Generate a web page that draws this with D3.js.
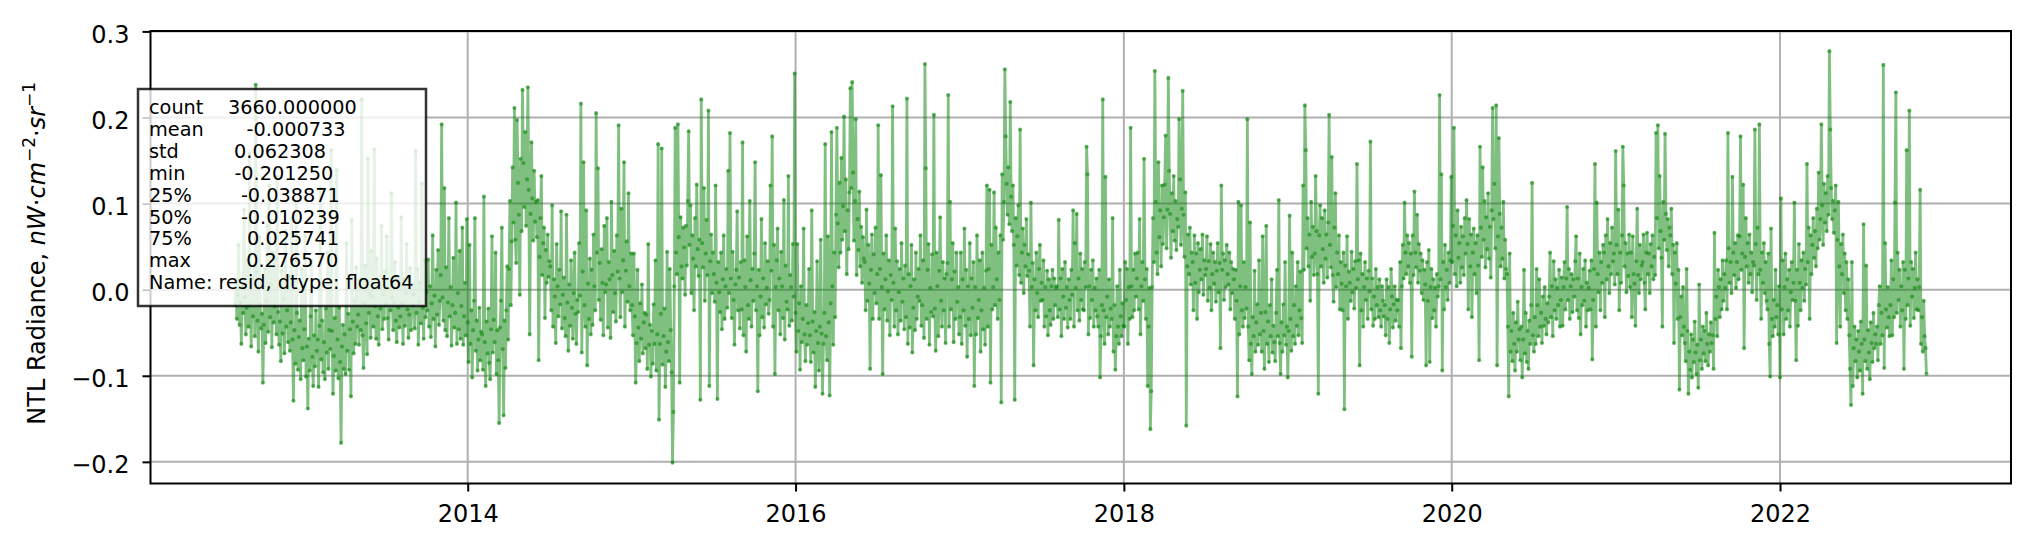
<!DOCTYPE html>
<html>
<head>
<meta charset="utf-8">
<script src="https://cdn.jsdelivr.net/npm/d3@7"></script>
<style>
    body { margin: 0; background: #ffffff; }
    text { font-family: "DejaVu Sans", sans-serif; }
</style>
</head>
<body>
<div id="chart"></div>
<script>
// residual series, one value every 2 days starting 2012-08-01 (one row per month)
let startDate = "2012-08-01";
let stepDays = 2;

let resid2012 = [-.018,.012,-.034,-.006,.052,-.041,-.015,-.063,.004,-.027,.093,-.009,-.052,-.021,.034,
    -.043,.158,-.018,-.066,.013,-.031,.027,-.054,.238,.021,-.036,-.072,.061,-.017,-.045,
    -.028,-.108,-.041,.024,-.062,-.013,.074,-.049,.121,-.032,.006,-.067,.043,-.038,-.019,.036,
    -.052,.131,-.026,-.064,-.037,-.083,.022,-.051,-.011,-.074,.068,-.043,-.024,-.061,.015,
    -.071,-.038,.083,-.058,-.129,-.047,-.086,.102,-.027,-.093,-.055,-.036,-.104,.024,-.068];
let resid2013 = [-.082,-.046,.063,-.101,-.066,-.138,-.057,-.094,-.031,.034,-.078,-.112,-.053,-.089,-.024,-.071,
    -.058,-.113,-.042,.118,-.081,-.036,-.096,-.061,-.104,-.022,-.073,.043,-.092,-.047,
    -.069,.162,-.048,-.121,-.077,-.033,-.094,.139,-.058,-.103,-.021,-.084,-.178,-.066,-.041,-.092,
    -.052,-.098,.054,-.071,-.028,-.093,-.046,-.124,.081,-.037,-.074,-.013,-.063,.026,-.043,
    -.029,-.064,.012,-.047,.221,-.053,-.091,-.016,.028,-.039,-.075,.152,-.027,-.004,-.056,.045,
    -.008,-.043,.163,-.019,-.057,.036,-.031,-.064,.007,-.022,.074,-.046,-.006,-.034,.021,
    -.017,.062,-.033,-.058,.003,-.024,.112,-.009,-.047,-.015,.032,-.036,-.061,.014,-.021,-.044,
    -.031,.084,-.016,-.063,.012,-.042,-.004,.053,-.023,-.056,-.029,.025,-.047,.006,-.018,
    -.006,-.045,.161,-.027,.024,-.064,-.014,.008,-.039,.123,-.021,-.057,.034,-.032,-.003,
    -.024,.035,-.043,.004,-.055,-.016,.063,-.034,-.007,-.066,.023,-.029,.046,-.041,-.013,.017,
    .192,-.009,-.036,.118,-.047,.026,-.054,-.015,.083,-.031,.003,-.065,-.018,.037,-.044,
    -.027,.101,-.063,-.004,-.046,.045,-.057,-.019,.072,-.064,-.031,.008,-.053,.082];
let resid2014 = [-.038,-.084,.052,-.063,-.024,-.102,-.047,-.013,.083,-.071,-.036,-.094,-.058,-.021,-.082,-.049,
    -.052,-.093,.108,-.061,-.112,-.037,-.074,-.022,-.085,-.104,-.046,.062,-.073,-.035,
    -.061,.043,-.098,-.047,-.082,-.155,-.044,-.013,.072,-.069,-.146,-.036,-.091,-.024,.027,-.058,
    .024,.103,-.018,.056,.142,.078,.211,.058,.031,.197,.124,.087,-.006,.152,.068,
    .232,.147,.096,.183,.074,.128,.235,.116,-.052,.088,.171,.106,.057,.138,.079,.102,
    .061,.104,-.082,.038,.083,.132,.017,.054,.072,-.033,.046,.008,.064,.015,.033,
    .027,-.024,.098,-.043,.012,-.008,-.062,.053,.004,-.031,.023,-.017,.091,-.045,-.006,.014,
    -.033,-.054,.087,-.015,-.071,.006,-.042,.034,-.021,-.057,-.004,.043,-.028,-.063,-.012,
    -.026,.054,-.007,.216,-.073,.021,.148,-.018,-.043,.092,-.088,.007,-.034,.036,-.052,
    .023,-.041,.064,.004,-.024,.205,.043,.141,-.012,.031,-.035,.047,.008,-.053,.074,-.003,
    .006,.083,-.044,.032,.012,-.056,.102,.017,-.026,.045,-.004,-.037,.063,.021,.191,
    .013,-.032,.094,-.003,.034,.148,-.043,.022,.056,-.014,.112,.004,-.024,.042];
let resid2015 = [-.018,-.053,.042,-.031,-.108,-.062,.023,-.044,-.083,-.016,-.057,.006,-.074,-.038,-.027,
    -.068,-.029,-.092,.053,-.064,-.041,-.101,-.048,-.086,-.017,-.063,.034,-.094,-.052,
    .169,-.151,-.063,-.028,.164,-.087,-.054,-.022,-.113,-.072,.044,-.061,-.083,.024,-.047,-.096,
    -.201,-.142,.004,.188,.043,.018,.192,.061,-.108,.084,.027,.013,.072,.049,-.006,
    .074,.028,.103,.184,.052,.098,-.004,.063,.036,-.024,.083,.027,.122,.047,.016,.058,
    -.128,.221,.054,.026,.118,-.013,.042,.081,.017,.208,-.112,.033,.064,-.004,.043,
    .018,-.014,.121,.008,-.127,.032,-.003,-.026,.043,-.046,.012,.063,-.034,.004,.024,-.021,
    .138,-.004,.182,.013,-.033,.044,-.012,-.064,.006,.023,.091,-.024,.014,-.045,.032,
    -.023,.171,-.053,.034,.003,-.072,.062,-.018,-.034,.103,.011,-.043,.024,-.013,.042,
    .148,-.024,.004,-.118,.023,-.053,-.008,.082,-.032,.013,-.044,.054,-.017,.002,.033,-.028,
    -.012,.121,.022,.178,-.043,.052,-.098,.003,.034,.071,-.024,.013,-.052,.044,.004,
    -.033,.104,-.058,.028,-.014,-.023,.132,-.042,.017,.003,-.036,.053,-.008,.251];
let resid2016 = [-.027,-.072,.053,-.048,-.016,-.093,.004,-.061,-.034,.071,-.052,-.083,-.018,-.064,-.039,.024,
    -.053,-.084,.092,-.037,-.073,-.026,-.113,-.048,.033,-.062,-.094,-.043,.058,-.051,
    -.121,-.063,-.027,.169,-.054,-.082,.062,-.038,-.123,-.016,.183,.004,-.064,.043,-.032,.087,
    .188,.077,.026,.124,.043,.153,.058,.097,.201,.068,.128,.018,.092,.047,.113,
    .234,.118,.241,.136,.057,.103,.198,.017,.082,.046,.114,.027,.073,.008,.061,.036,
    .032,-.024,.093,-.013,.052,.007,-.092,.023,.064,-.034,.041,-.004,.072,-.016,.018,
    .191,-.034,.024,.133,.003,-.098,.042,-.023,.012,.063,-.036,-.002,.034,-.053,.017,-.012,
    .213,.008,-.043,.071,-.024,.033,-.052,-.003,.024,-.036,.054,-.014,.013,-.046,.028,
    -.032,.222,-.063,.018,-.044,.004,.052,-.073,-.021,.012,-.047,.043,-.034,-.008,.024,
    -.013,.063,-.042,-.018,.034,-.056,.262,.141,-.034,.023,.053,-.064,.002,-.026,.041,-.031,
    .203,-.022,-.071,.043,.004,-.054,.022,.084,-.013,-.043,.032,-.024,.013,-.062,.018,
    .031,.226,-.043,.102,-.023,.012,.054,-.061,.021,-.034,.043,-.014,.003,-.052];
let resid2017 = [-.032,.043,-.063,.012,-.024,.071,-.042,.023,-.078,.004,-.034,.054,-.053,.013,-.021,.032,
    -.112,.003,-.052,.063,-.033,-.012,.034,-.072,-.024,.043,-.046,.002,-.064,.022,
    .121,-.043,.024,.116,-.108,.052,-.023,.003,.113,-.018,.072,.012,-.034,.043,-.012,.063,
    -.131,.134,.058,.102,.256,.178,.123,.087,.142,.076,.218,.108,.068,.121,.052,
    -.128,.083,.028,.062,.098,.017,.186,.008,.043,.071,-.004,.052,.027,.082,.016,.041,
    .022,-.043,.101,.003,.031,-.088,.012,-.024,.043,-.004,-.032,.024,.052,-.013,.008,
    -.012,.034,-.043,.003,-.031,.022,-.053,.012,-.024,-.041,.004,.023,-.034,.013,-.018,.002,
    .004,-.032,.081,-.023,.013,-.054,.024,-.008,-.034,.032,-.021,.003,-.044,.012,-.012,
    -.034,.023,-.006,.092,-.043,.054,.002,.088,-.024,.013,-.036,.042,-.012,.024,-.023,
    -.024,.032,.003,.166,.134,-.052,.004,-.033,.023,-.012,.034,-.043,.002,-.024,.013,-.031,
    -.043,.023,-.102,-.054,-.018,.221,-.024,-.063,.131,-.032,-.008,-.052,.012,-.043,-.022,
    -.034,.083,-.072,-.018,-.093,-.054,.004,-.043,-.063,.023,-.031,-.054,-.016,-.042];
let resid2018 = [-.043,.032,-.012,.024,-.063,.003,-.034,.188,.004,-.032,.023,-.024,.042,-.008,.013,
    .043,-.023,.082,-.052,.004,.032,-.013,.152,.012,-.034,.024,-.112,-.043,.002,
    -.162,-.118,.003,.083,.032,.254,.102,.043,.018,.148,.061,.092,.027,.121,.053,.084,
    .122,.179,.048,.093,.246,.138,.088,.037,.112,.068,.132,.057,.103,.046,.082,
    .073,.198,.128,.052,.094,.231,.087,.038,.113,-.158,.027,.064,.018,.072,.006,.043,
    .032,-.024,.063,.008,.042,-.034,.054,-.003,.023,.047,.012,.064,-.006,.034,.017,
    .024,.062,-.013,.033,.002,.053,-.024,.018,.043,.007,.032,-.014,.022,.054,-.003,.031,
    -.068,.121,.023,.042,-.012,.034,.003,.052,.018,.006,.043,-.023,.032,-.004,.024,
    .012,-.034,.023,-.013,-.124,.102,-.052,.004,.098,-.024,-.043,.032,-.033,.003,-.022,
    .198,-.043,-.082,.078,-.063,-.098,-.032,-.054,.022,-.072,-.038,-.017,-.064,.034,-.052,-.027,
    -.072,.062,-.048,-.092,-.026,.074,-.063,-.037,-.084,-.018,-.054,.012,-.073,-.042,-.061,
    -.083,-.027,.023,-.054,.104,-.062,-.098,-.038,-.072,-.017,-.053,.032,-.064,-.043];
let resid2019 = [-.102,-.048,.086,-.034,-.071,.043,-.054,-.018,-.063,.004,-.042,.032,-.053,-.024,.021,-.033,
    -.062,.121,.023,.214,.162,.048,.083,.027,.064,-.013,.102,.038,.073,.017,
    .042,.132,.068,.018,-.121,.063,.098,.027,.083,.047,.008,.092,.036,.064,.014,.078,
    .203,.052,.026,.154,.017,-.014,.072,.112,.003,.043,.018,.063,-.023,.032,.007,
    -.024,.043,-.139,.028,.004,.062,-.034,.021,.008,-.013,.044,-.003,.024,-.022,.033,.002,
    .146,.012,.034,-.088,.042,-.024,.018,-.043,.003,.032,-.012,.013,-.034,.022,-.002,
    .172,-.023,.013,-.042,-.008,-.034,.024,-.018,.003,-.032,.012,-.024,-.043,.004,-.013,-.031,
    -.018,-.053,.012,-.034,.003,-.062,-.023,.024,-.008,-.044,-.017,.004,-.036,-.012,-.024,
    -.012,-.043,.032,-.068,.004,.052,.013,.101,.043,.018,.063,.027,.054,.008,.042,
    -.078,.063,.017,.114,.043,.026,.087,.008,.053,.022,.042,-.004,.034,-.012,.023,.006,
    -.088,.032,-.013,.046,-.084,.003,.024,-.033,.012,-.024,.002,-.043,.018,-.008,.004,
    .226,.012,.134,-.094,.032,-.023,.052,.003,.023,-.012,.043,.008,.034,.131];
let resid2020 = [.032,.074,.188,.018,.063,.004,.092,.037,.054,.008,.073,.026,.062,.017,.083,.042,
    .104,.053,-.023,.082,.027,.064,-.032,.043,.071,.018,.054,-.004,.063,.028,
    -.082,.166,.072,.038,.142,.058,.103,.026,.084,.047,.112,.036,.073,.014,.092,.211,
    .082,.123,.048,.214,-.088,.062,.176,.088,.027,.072,.036,.102,.013,.058,.024,
    .018,-.043,-.124,.042,-.072,-.048,-.083,-.027,-.063,-.094,-.038,-.072,-.014,-.058,-.046,-.082,
    -.043,-.102,-.058,.023,-.074,-.027,-.084,-.048,-.092,-.036,-.063,-.018,.124,-.053,-.072,
    -.032,-.063,.024,-.018,-.054,.012,-.043,-.027,-.062,-.008,-.042,.003,-.034,-.052,-.016,-.038,
    -.008,.043,-.032,.004,-.054,.033,-.024,.012,-.034,.002,-.018,.023,-.043,-.012,.014,
    -.042,.003,.032,-.023,.013,.096,-.012,.024,-.034,.004,.018,-.026,.012,-.008,.033,
    .062,-.024,.013,-.033,.042,-.052,.003,-.018,.024,-.013,.034,-.043,.008,-.024,.002,.022,
    -.023,.034,-.081,-.012,.024,.146,-.043,.101,.018,-.003,.043,-.024,.032,.008,.052,
    .043,-.032,.063,.012,.082,.027,-.004,.054,.018,.072,.033,.042,.006,.161];
let resid2021 = [.052,.018,.093,-.024,.043,.008,.063,.166,.121,.027,.054,-.003,.042,.016,.064,
    .003,.043,-.032,.062,.018,.007,-.042,.033,.094,.017,-.004,.052,.012,.028,
    .032,.064,.008,-.023,.043,.066,.018,.042,-.004,.053,.027,.063,.012,.038,.017,.182,
    .083,.191,.048,.132,.068,.037,-.043,.102,.058,.181,.088,.046,.082,.027,.072,
    .063,.094,.018,.052,-.062,.043,.007,.054,-.034,.023,-.116,-.032,-.008,-.053,.003,-.043,
    -.062,-.083,.024,-.048,-.121,-.072,-.093,-.052,-.102,-.058,-.084,-.037,-.073,-.098,-.064,
    -.114,.006,-.082,-.058,-.092,-.043,-.074,-.048,-.083,-.027,-.063,-.088,-.052,-.072,-.038,-.062,
    -.053,-.092,.066,-.034,-.008,-.054,.023,.003,-.032,.012,-.023,.034,-.013,.018,.002,
    .034,-.023,.182,.048,.008,.032,-.004,.131,.043,.017,.054,.002,.032,.063,.012,
    .062,.178,.023,.042,.122,-.068,.038,.083,.027,.054,.008,.064,.018,.043,-.003,.032,
    .028,.186,.053,-.012,.072,.018,.192,.023,-.034,.043,.008,.054,-.004,.032,-.013,
    -.023,.042,-.063,-.101,.071,-.034,-.054,-.012,-.043,.023,-.032,-.018,-.052,.004];
let resid2022 = [-.102,.106,-.023,.034,-.052,.003,.042,-.034,.012,-.024,.023,-.043,-.003,.032,-.012,.008,
    .101,-.013,-.082,.023,-.042,.053,.008,-.024,.034,.002,.043,-.013,.024,.006,
    .146,.032,.072,-.034,.063,.018,.052,.083,.037,.068,.027,.094,.048,.136,.058,.082,
    .192,.098,.052,.123,.078,.112,.068,.132,.087,.277,.186,.118,.082,.103,.066,
    .092,.121,-.062,.058,.102,.027,-.043,.053,.018,.064,-.004,.042,-.024,.032,-.034,.012,
    -.053,-.092,-.134,.032,-.112,-.068,-.043,-.083,-.058,-.102,-.048,-.072,-.094,-.037,-.063,
    -.121,.076,-.058,-.083,.028,-.092,-.047,-.073,-.104,-.038,-.062,-.084,-.027,-.068,-.052,-.063,
    -.043,-.082,-.018,.004,-.063,-.027,-.053,.261,-.091,.054,-.023,-.044,.003,-.032,-.054,
    -.018,.034,-.053,.012,-.032,.101,.229,-.027,.043,-.012,.023,-.043,.004,-.024,.032,
    -.092,.023,-.034,.162,-.018,.013,.208,-.042,.032,-.008,.024,-.033,.002,.043,-.023,.012,
    -.024,.003,.116,-.063,-.032,-.072,-.013,-.054,-.068,-.098];

// describe() output shown in the text box
let statNames = ["count", "mean", "std", "min", "25%", "50%", "75%", "max"];
let statValues = [3660.0, -0.000733, 0.062308, -0.201250, -0.038871, -0.010239, 0.025741, 0.276570];
let statFooter = "Name: resid, dtype: float64";

// axis ticks
let yTicks = [-0.2, -0.1, 0.0, 0.1, 0.2, 0.3];
let xTickYears = [2014, 2016, 2018, 2020, 2022];

// set size for svg container
let width = 2030;
let height = 551;

// set margins for chart area
let margin = {
    top: 31,
    right: 19,
    bottom: 67.5,
    left: 150.5
};

let chartWidth = width - margin.left - margin.right;
let chartHeight = height - margin.top - margin.bottom;

let svg = d3.select("#chart").append("svg").attr("width", width).attr("height", height);
let chartGroup = svg.append("g").attr("transform", `translate(${margin.left}, ${margin.top})`);

// build the series
let resid = [].concat(resid2012, resid2013, resid2014, resid2015, resid2016, resid2017,
                      resid2018, resid2019, resid2020, resid2021, resid2022);
let t0 = d3.utcParse("%Y-%m-%d")(startDate);
let series = resid.map((v, i) => ({date: d3.utcDay.offset(t0, i * stepDays), value: v}));

// scales with 5% padding like matplotlib
let tExtent = d3.extent(series, d => d.date.getTime());
let tPad = (tExtent[1] - tExtent[0]) * 0.05;
let xScale = d3.scaleUtc().domain([new Date(tExtent[0] - tPad), new Date(tExtent[1] + tPad)]).range([0, chartWidth]);

let vMin = statValues[3], vMax = statValues[7];
let vPad = (vMax - vMin) * 0.05;
let yScale = d3.scaleLinear().domain([vMin - vPad, vMax + vPad]).range([chartHeight, 0]);

let xTicks = xTickYears.map(y => new Date(Date.UTC(y, 0, 1)));

// grid
chartGroup.selectAll(".xgrid").data(xTicks).enter().append("line")
    .attr("x1", d => xScale(d)).attr("x2", d => xScale(d))
    .attr("y1", 0).attr("y2", chartHeight)
    .attr("stroke", "#b0b0b0").attr("stroke-width", 2);
chartGroup.selectAll(".ygrid").data(yTicks).enter().append("line")
    .attr("x1", 0).attr("x2", chartWidth)
    .attr("y1", d => yScale(d)).attr("y2", d => yScale(d))
    .attr("stroke", "#b0b0b0").attr("stroke-width", 2);

// line and points
let line = d3.line().x(d => xScale(d.date)).y(d => yScale(d.value));
chartGroup.append("path").datum(series)
    .attr("d", line)
    .attr("fill", "none")
    .attr("stroke", "#008000")
    .attr("stroke-opacity", 0.5)
    .attr("stroke-width", 2.8)
    .attr("stroke-linejoin", "round");

chartGroup.selectAll("circle").data(series).enter().append("circle")
    .attr("cx", d => xScale(d.date))
    .attr("cy", d => yScale(d.value))
    .attr("r", 2.1)
    .style("fill", "#008000")
    .style("fill-opacity", 0.5);

// axes
let xAxis = d3.axisBottom(xScale).tickValues(xTicks).tickFormat(d3.utcFormat("%Y")).tickSize(8).tickPadding(13);
let yAxis = d3.axisLeft(yScale).tickValues(yTicks).tickFormat(d3.format(".1f")).tickSize(8).tickPadding(13);

let gx = chartGroup.append("g").attr("transform", `translate(0, ${chartHeight})`).call(xAxis);
let gy = chartGroup.append("g").call(yAxis);
[gx, gy].forEach(g => {
    g.select(".domain").remove();
    g.selectAll(".tick line").attr("stroke", "#000").attr("stroke-width", 2);
    g.selectAll(".tick text").attr("fill", "#000").style("font-size", "24px")
        .style("font-family", "'DejaVu Sans', sans-serif");
});
gy.selectAll(".tick text").attr("dy", "0.45em");

// frame
chartGroup.append("rect").attr("width", chartWidth).attr("height", chartHeight)
    .attr("fill", "none").attr("stroke", "#000").attr("stroke-width", 2);

// y label
let ylabel = svg.append("text")
    .attr("transform", `translate(45, ${margin.top + chartHeight / 2 - 4}) rotate(-90)`)
    .attr("text-anchor", "middle")
    .style("font-size", "24px");
ylabel.append("tspan").text("NTL Radiance, ");
ylabel.append("tspan").style("font-style", "italic").text("nW");
ylabel.append("tspan").text("·");
ylabel.append("tspan").style("font-style", "italic").text("cm");
ylabel.append("tspan").attr("dy", -10).style("font-size", "17px").text("−2");
ylabel.append("tspan").attr("dy", 10).text("·");
ylabel.append("tspan").style("font-style", "italic").text("sr");
ylabel.append("tspan").attr("dy", -10).style("font-size", "17px").text("−1");

// stats box
let box = svg.append("g");
box.append("rect").attr("x", 138).attr("y", 89).attr("width", 288).attr("height", 217)
    .attr("fill", "#fff").attr("fill-opacity", 0.8)
    .attr("stroke", "#000").attr("stroke-opacity", 0.8).attr("stroke-width", 2.5);

// pandas style fixed width lines
let statLines = statNames.map((n, i) => {
    let v = statValues[i].toFixed(6);
    return n + " ".repeat(Math.max(1, 20 - n.length - v.length)) + v;
});
statLines.push(statFooter);

box.selectAll("text").data(statLines).enter().append("text")
    .attr("x", 149)
    .attr("y", (d, i) => 114.3 + i * 21.85)
    .style("font-size", "19.3px")
    .style("white-space", "pre")
    .attr("fill", "#000")
    .text(d => d);
</script>
</body>
</html>
